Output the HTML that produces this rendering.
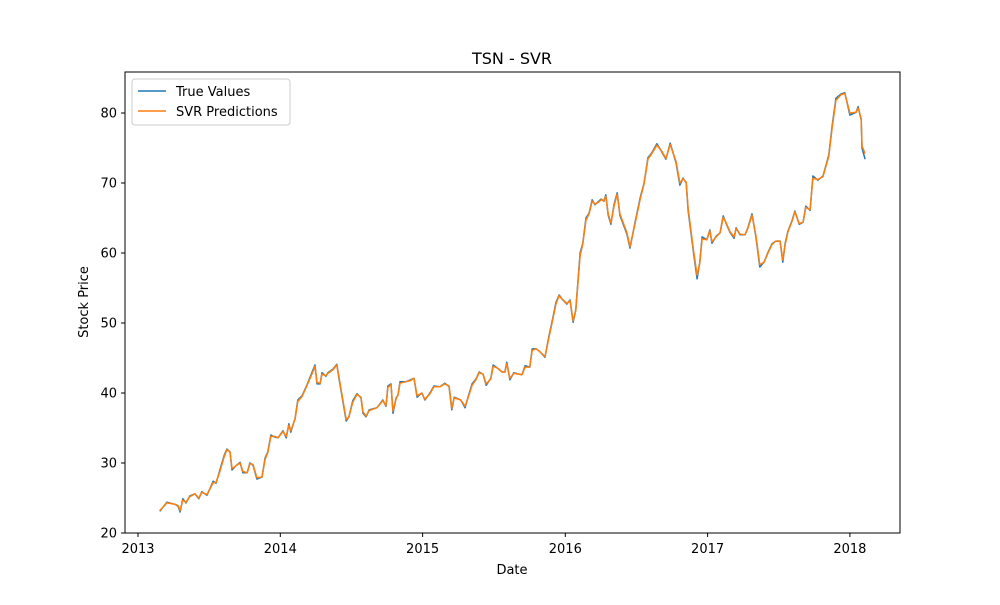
<!DOCTYPE html>
<html><head><meta charset="utf-8"><style>
body{margin:0;background:#fff;font-family:"Liberation Sans","DejaVu Sans",sans-serif;}
svg text{font-family:"DejaVu Sans","Liberation Sans",sans-serif;}
</style></head><body>
<svg id="c" width="1000" height="600" xmlns="http://www.w3.org/2000/svg">
<rect width="1000" height="600" fill="#fff"/>
<text x="512" y="64" font-size="16" text-anchor="middle">TSN - SVR</text>
<text x="512" y="574" font-size="13" text-anchor="middle">Date</text>
<text x="88" y="302" font-size="13" text-anchor="middle" transform="rotate(-90 88 302)">Stock Price</text>
<g id="ticks"></g>
<g id="lines"></g>
<rect x="125" y="72" width="775" height="461" fill="none" stroke="#000" stroke-width="1"/>
<g>
<rect x="132" y="79" width="158" height="46" rx="3" fill="#fff" stroke="#ccc"/>
<g><line x1="138" y1="91" x2="166" y2="91" stroke="#1f77b4" stroke-width="1.5"/><text x="176" y="96" font-size="13">True Values</text></g>
<g><line x1="138" y1="111" x2="166" y2="111" stroke="#ff7f0e" stroke-width="1.5"/><text x="176" y="116" font-size="13">SVR Predictions</text></g>
</g>
</svg>
<script>
const days=[56,74,95,103,108,115,123,133,146,156,164,177,193,200,210,221,228,236,241,251,262,269,280,287,295,305,318,326,333,341,351,359,372,380,387,392,403,410,421,433,446,454,459,467,472,482,487,500,510,516,534,541,551,562,572,577,585,593,613,628,636,641,649,654,662,667,672,687,700,708,716,728,736,749,759,775,787,798,805,811,828,839,846,857,867,875,885,893,905,911,921,934,941,946,954,964,977,985,993,1005,1011,1021,1031,1044,1054,1064,1072,1080,1088,1100,1108,1116,1123,1134,1141,1149,1157,1165,1172,1180,1188,1195,1200,1206,1213,1221,1229,1236,1254,1262,1275,1288,1298,1308,1318,1331,1344,1354,1365,1380,1390,1398,1406,1411,1424,1434,1441,1447,1459,1467,1472,1483,1493,1501,1508,1518,1529,1534,1544,1557,1565,1575,1585,1595,1606,1616,1626,1636,1647,1654,1660,1667,1678,1685,1696,1706,1713,1724,1731,1744,1757,1765,1772,1780,1790,1803,1813,1826,1842,1847,1855,1857,1865];
const trueVals=[23.1,24.4,24.1,23.8,23,24.9,24.3,25.3,25.6,24.9,25.9,25.4,27.4,27.1,29,31.1,32,31.6,29,29.6,30.1,28.6,28.6,30,29.7,27.7,28,30.7,31.6,34,33.7,33.6,34.6,33.6,35.6,34.4,36.4,39,39.6,41.1,42.9,44,41.3,41.3,42.9,42.4,42.9,43.4,44.1,41.9,36,36.6,38.9,39.9,39.3,37.1,36.6,37.6,37.9,39,38.1,41,41.3,37.1,39.3,39.7,41.6,41.6,41.9,42.1,39.4,40,39,40,41,40.9,41.4,40.9,37.6,39.4,39,37.9,39.3,41.3,42,43,42.7,41.1,42.1,44,43.6,43,43,44.4,41.9,42.9,42.7,42.6,43.9,43.7,46.3,46.3,45.9,45.1,48.1,50.7,52.9,54,53.4,52.7,53.3,50.1,51.9,60,61.4,65,65.7,67.6,66.9,67.3,67.7,67.4,68.3,65.4,64.1,66.9,68.6,65.4,62.7,60.7,64.4,67.9,70,73.6,74.3,75.6,74.4,73.4,75.7,72.9,69.7,70.7,70,66.1,60.4,56.3,58.7,62.3,61.9,63.3,61.4,62.4,62.9,65.3,64.3,63,62.1,63.6,62.6,62.6,63.7,65.6,62.3,58,58.7,60.1,61.3,61.7,61.7,58.7,61.4,63.1,64.7,66,64.1,64.4,66.7,66.1,71,70.4,71,72.6,74,78,82.1,82.7,82.9,79.7,80.1,80.9,79,75,73.4];
const predVals=[23.2,24.3,24.1,23.9,23.2,24.7,24.4,25.2,25.6,25,25.8,25.5,27.2,27.2,28.8,30.9,31.9,31.6,29.2,29.6,30,28.8,28.6,29.9,29.8,27.9,28,30.5,31.5,33.8,33.8,33.6,34.5,33.8,35.4,34.6,36.3,38.8,39.5,41,42.7,43.8,41.5,41.4,42.7,42.5,42.8,43.3,44,42.1,36.2,36.6,38.7,39.8,39.4,37.3,36.7,37.5,37.9,38.9,38.2,40.8,41.2,37.4,39.2,39.7,41.4,41.6,41.8,42.1,39.6,40,39.1,39.9,40.9,40.9,41.3,41,37.8,39.3,39,38.1,39.2,41.1,41.9,42.9,42.7,41.3,42,43.8,43.6,43,43,44.2,42.1,42.8,42.7,42.6,43.7,43.7,46.1,46.3,45.9,45.2,47.9,50.5,52.7,53.9,53.4,52.8,53.2,50.3,51.8,59.6,61.3,64.7,65.6,67.4,67,67.2,67.6,67.5,68.1,65.6,64.3,66.7,68.4,65.6,62.9,60.9,64.2,67.7,69.9,73.4,74.2,75.4,74.5,73.5,75.5,73.1,70,70.6,70.1,66.4,60.7,56.8,58.6,62,61.9,63.2,61.6,62.3,62.9,65.1,64.4,63.1,62.3,63.5,62.7,62.6,63.6,65.4,62.5,58.3,58.7,60,61.2,61.7,61.7,59,61.2,63,64.6,65.9,64.2,64.4,66.5,66.2,70.7,70.5,70.9,72.5,73.8,77.7,81.8,82.6,82.8,80,80.1,80.7,79.2,75.3,74.2];
const yTicks=[20,30,40,50,60,70,80];
const xTickLabels=["2013","2014","2015","2016","2017","2018"];
const xTickDays=[0,365,730,1096,1461,1826];
const NS="http://www.w3.org/2000/svg";
function xs(d){return 138+d/365.25*142.4;}
function ys(v){return 533-(v-20)*7;}
const tg=document.getElementById('ticks');
function mk(t,a,p){const e=document.createElementNS(NS,t);for(const k in a)e.setAttribute(k,a[k]);p.appendChild(e);return e;}
yTicks.forEach(v=>{
  const l=mk('line',{x1:121,x2:125,y1:ys(v),y2:ys(v),stroke:'#000'},tg);
  
  
  const t=mk('text',{x:117,y:ys(v)+4.5,'font-size':13,'text-anchor':'end'},tg);t.textContent=v;
  
  
});
xTickDays.forEach((d,i)=>{
  const l=mk('line',{x1:xs(d),x2:xs(d),y1:533,y2:537,stroke:'#000'},tg);
  
  
  const t=mk('text',{x:xs(d),y:553,'font-size':13,'text-anchor':'middle'},tg);t.textContent=xTickLabels[i];
  
  
});
const lg=document.getElementById('lines');
function line(vals,color,name){
  const pts=days.map((d,i)=>xs(d).toFixed(1)+','+ys(vals[i]).toFixed(1)).join(' ');
  const p=mk('polyline',{points:pts,fill:'none',stroke:color,'stroke-width':1.5,'stroke-linejoin':'round'},lg);
  
  
}
line(trueVals,'#1f77b4','true-values-line');
line(predVals,'#ff7f0e','svr-predictions-line');
</script>
</body></html>
